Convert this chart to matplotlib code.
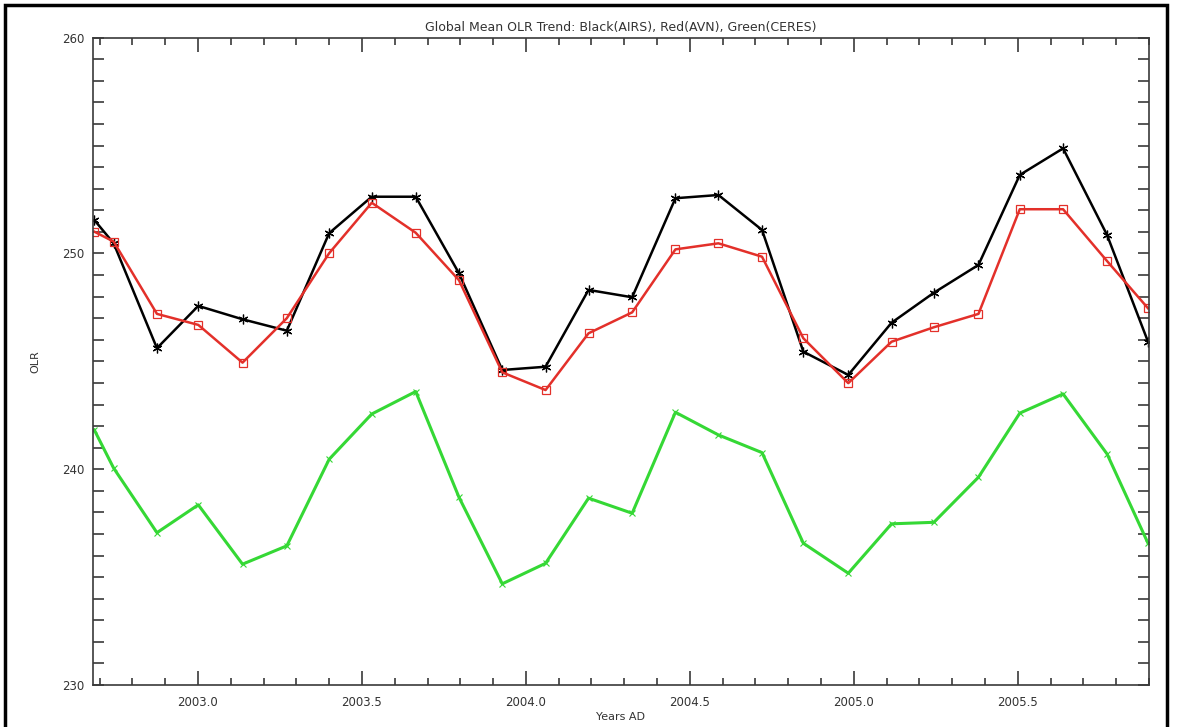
import matplotlib

matplotlib.use("Agg")
import matplotlib.pyplot as plt
from matplotlib.patches import Rectangle
from matplotlib.ticker import MultipleLocator, FormatStrFormatter

# sample times (decimal year)
years = [2002.684, 2002.743, 2002.875, 2003.001, 2003.136, 2003.271, 2003.400,
         2003.530, 2003.664, 2003.796, 2003.928, 2004.060, 2004.191, 2004.324,
         2004.456, 2004.587, 2004.720, 2004.846, 2004.983, 2005.115, 2005.244,
         2005.380, 2005.506, 2005.638, 2005.772, 2005.897]

airs = [251.55, 250.47, 245.61, 247.57, 246.95, 246.42, 250.94, 252.63, 252.63,
        249.08, 244.60, 244.75, 248.31, 247.97, 252.56, 252.71, 251.09, 245.45,
        244.37, 246.79, 248.18, 249.47, 253.64, 254.87, 250.86, 245.91]

avn = [251.01, 250.55, 247.20, 246.69, 244.94, 247.00, 250.01, 252.35, 250.96,
       248.76, 244.49, 243.67, 246.30, 247.27, 250.19, 250.47, 249.85, 246.07,
       243.99, 245.91, 246.58, 247.20, 252.05, 252.05, 249.65, 247.46]

ceres = [241.82, 240.05, 237.06, 238.35, 235.60, 236.45, 240.46, 242.56, 243.60,
         238.70, 234.69, 235.64, 238.66, 237.96, 242.64, 241.59, 240.77, 236.57,
         235.18, 237.47, 237.54, 239.63, 242.60, 243.49, 240.71, 236.57]

TITLE = "Global Mean OLR Trend: Black(AIRS), Red(AVN), Green(CERES)"

fig = plt.figure(figsize=(11.8, 7.27), dpi=100)
ax = fig.add_axes([93 / 1180, 1 - 685 / 727, (1149 - 93) / 1180, (685 - 37.7) / 727])

ax.plot(years, airs, "-", color="black", lw=1.8, marker=(6, 2, 0), ms=7, mew=0.9)
ax.plot(years, avn, "-", color="#e3302a", lw=1.8, marker="s", ms=6,
        mfc="none", mec="#e3302a", mew=0.9)
ax.plot(years, ceres, "-", color="#35d835", lw=2.2, marker="x", ms=5, mew=0.8)

ax.set_xlim(2002.68, 2005.90)
ax.set_ylim(230, 260)
ax.xaxis.set_major_locator(MultipleLocator(0.5))
ax.xaxis.set_minor_locator(MultipleLocator(0.1))
ax.xaxis.set_major_formatter(FormatStrFormatter("%.1f"))
ax.yaxis.set_major_locator(MultipleLocator(10))
ax.yaxis.set_minor_locator(MultipleLocator(1))

axis_col = "#3a3a3a"
for s in ax.spines.values():
    s.set_color(axis_col)
    s.set_linewidth(1.2)
ax.tick_params(axis="both", which="both", direction="in", top=True, right=True,
               color=axis_col, labelcolor="#333333", labelsize=8.5)
ax.tick_params(axis="x", which="major", length=10, width=1.2, pad=8)
ax.tick_params(axis="x", which="minor", length=5, width=1.2)
ax.tick_params(axis="y", which="major", length=8, width=1.2, pad=6)
ax.tick_params(axis="y", which="minor", length=8, width=1.2)

ax.set_title(TITLE, fontsize=9, color="#333333", pad=5)
ax.set_xlabel("Years AD", fontsize=8, color="#333333", labelpad=2)
ax.set_ylabel("OLR", fontsize=8, color="#333333", labelpad=16)

# outer frame around the whole picture (bottom edge cut off)
fig.patches.append(Rectangle((5 / 1180, -0.02), (1167 - 5) / 1180, 1.02 - 5 / 727,
                             transform=fig.transFigure, fill=False,
                             edgecolor="black", linewidth=2.5))

fig.savefig("out.png", dpi=100)
